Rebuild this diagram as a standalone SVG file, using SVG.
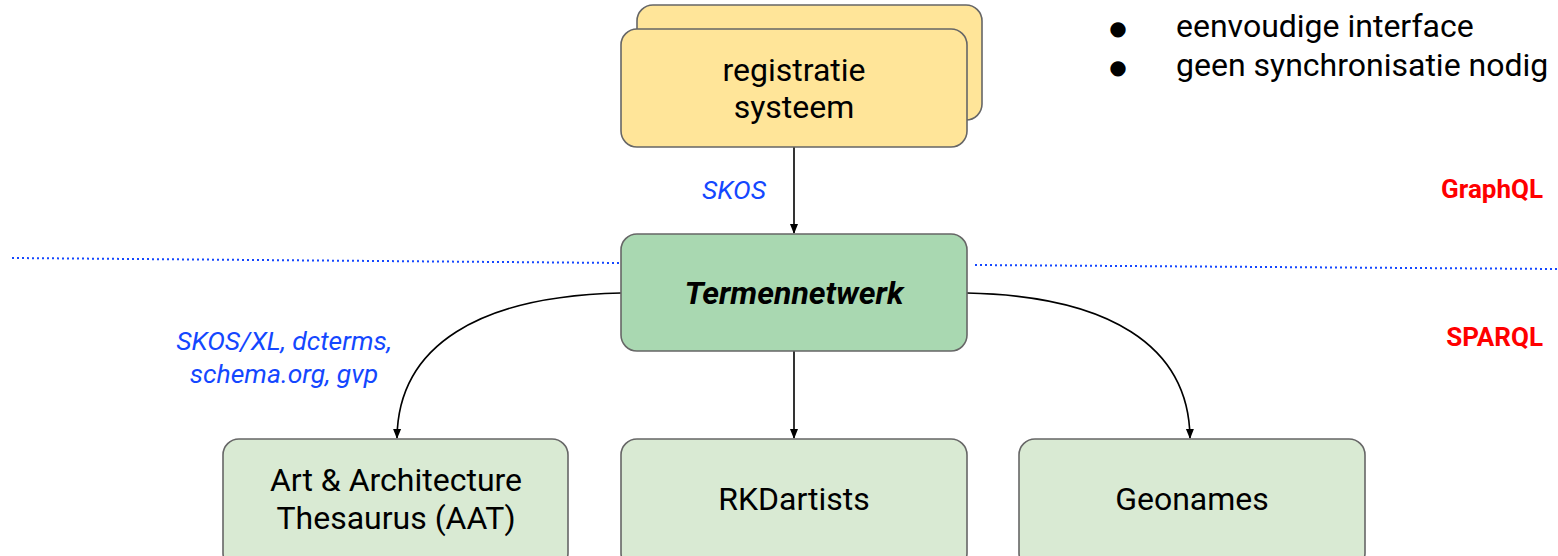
<svg xmlns="http://www.w3.org/2000/svg" width="1558" height="556" viewBox="0 0 1558 556">
<defs>
<style>
text{font-family:Roboto,"Liberation Sans",sans-serif;}
.box{stroke:#666;stroke-width:1.6;}
.yel{fill:#ffe599;}
.grn{fill:#a9d8b1;}
.lgrn{fill:#d9ead3;}
.t{font-size:32px;fill:#000;text-anchor:middle;}
.lbl{font-size:26.5px;fill:#1447ff;font-style:italic;text-anchor:middle;}
.red{font-size:26px;fill:#ff0000;font-weight:bold;text-anchor:end;}
.bul{font-family:"DejaVu Sans",sans-serif;font-size:20px;text-anchor:middle;}
.conn{fill:none;stroke:#000;stroke-width:1.6;}
.dot{fill:none;stroke:#1447ff;stroke-width:2;stroke-dasharray:2 3;}
</style>
<marker id="arr" markerWidth="10" markerHeight="10" refX="9" refY="5" orient="auto" markerUnits="userSpaceOnUse">
<path d="M0,1 L10,5 L0,9 Z" fill="#000"/>
</marker>
</defs>
<rect width="1558" height="556" fill="#fff"/>
<g id="dividers">
<path class="dot" d="M12,258 L621,263"/>
<path class="dot" d="M975,265 L1558,269"/>
</g>
<g id="notes">
<text class="bul" x="1118" y="35">●</text>
<text x="1176" y="37" style="font-size:32px">eenvoudige interface</text>
<text class="bul" x="1118" y="74">●</text>
<text x="1176" y="76" style="font-size:32px">geen synchronisatie nodig</text>
<text class="red" x="1543" y="198">GraphQL</text>
<text class="red" x="1543" y="346">SPARQL</text>
</g>
<g id="connectors">
<path class="conn" d="M794,147 L794,233" marker-end="url(#arr)"/>
<path class="conn" d="M621,293 C480,296 398,345 397,438" marker-end="url(#arr)"/>
<path class="conn" d="M794,351 L794,438" marker-end="url(#arr)"/>
<path class="conn" d="M967,293 C1108,296 1189,345 1190,438" marker-end="url(#arr)"/>
<text class="lbl" x="734" y="199">SKOS</text>
<text class="lbl" x="284" y="350">SKOS/XL, dcterms,</text>
<text class="lbl" x="284" y="383">schema.org, gvp</text>
</g>
<g id="registratie">
<rect class="box yel" x="637" y="5" width="345" height="115" rx="16"/>
<rect class="box yel" x="621" y="29" width="346" height="118" rx="16"/>
<text class="t" x="794" y="81">registratie</text>
<text class="t" x="794" y="118">systeem</text>
</g>
<g id="termennetwerk">
<rect class="box grn" x="621" y="234" width="346" height="117" rx="16"/>
<text class="t" x="794" y="304" font-weight="bold" font-style="italic">Termennetwerk</text>
</g>
<g id="aat">
<rect class="box lgrn" x="223" y="439" width="345" height="130" rx="16"/>
<text class="t" x="396" y="491">Art &amp; Architecture</text>
<text class="t" x="396" y="529">Thesaurus (AAT)</text>
</g>
<g id="rkd">
<rect class="box lgrn" x="621" y="439" width="346" height="130" rx="16"/>
<text class="t" x="794" y="510">RKDartists</text>
</g>
<g id="geonames">
<rect class="box lgrn" x="1019" y="439" width="346" height="130" rx="16"/>
<text class="t" x="1192" y="510">Geonames</text>
</g>
</svg>
